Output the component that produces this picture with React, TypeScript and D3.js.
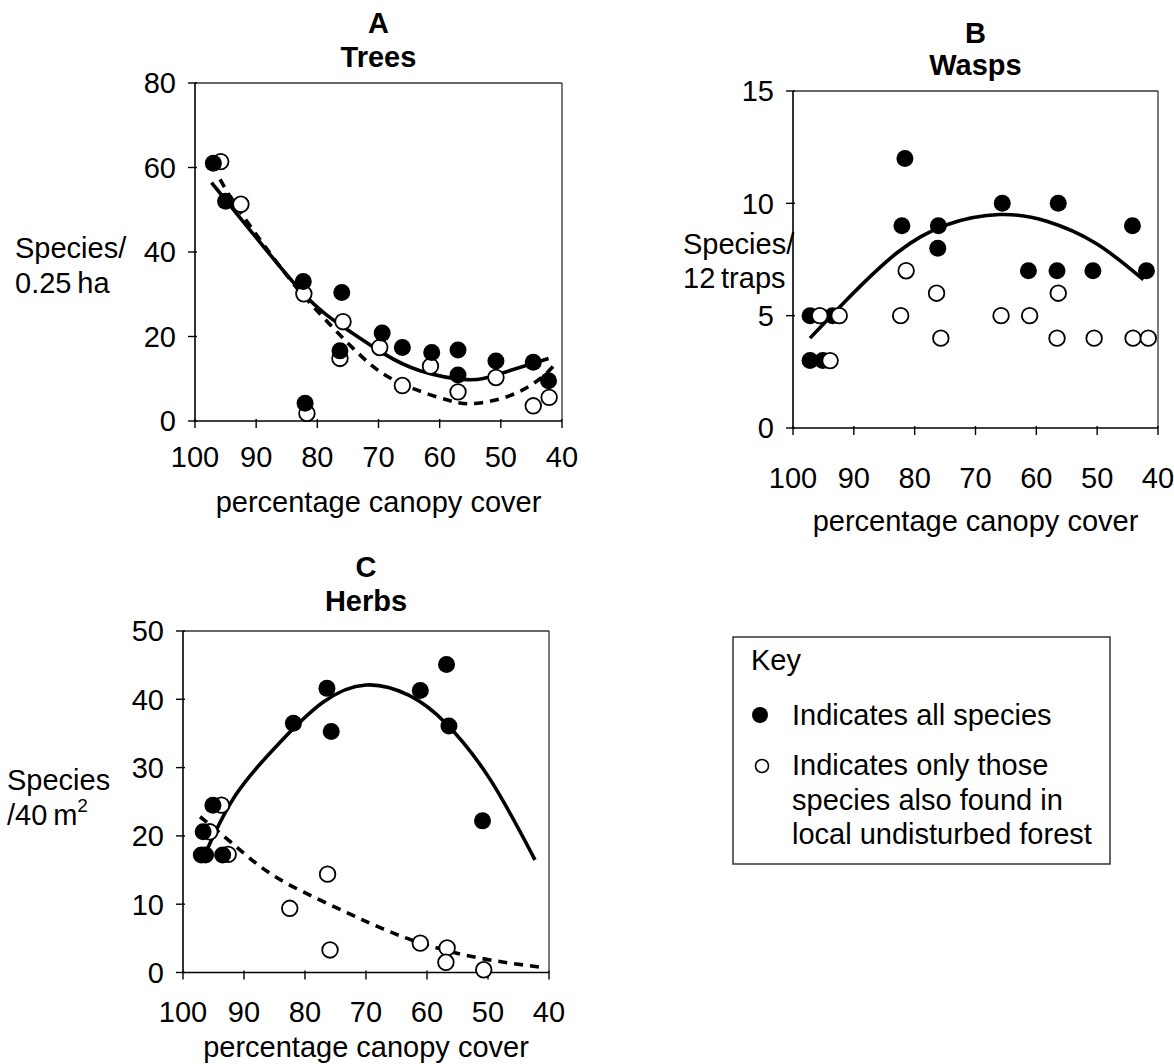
import React from "react";
import * as d3 from "d3";

const FONT = "'Liberation Sans', Arial, Helvetica, sans-serif";

const canopyTicks = [100, 90, 80, 70, 60, 50, 40];

// A  Trees (species / 0.25 ha)
const treesAllX = [97, 95, 82.3, 76, 76.3, 82, 69.4, 66.1, 61.3, 57, 57, 50.8, 44.7, 42.2];
const treesAllY = [61, 52, 33, 30.4, 16.6, 4.2, 20.8, 17.4, 16.2, 16.8, 10.9, 14.2, 13.9, 9.5];
const treesLocalX = [95.8, 92.5, 82.2, 75.8, 76.3, 81.7, 69.8, 66.1, 61.5, 57, 50.8, 44.7, 42.1];
const treesLocalY = [61.4, 51.3, 30.1, 23.5, 14.8, 1.8, 17.4, 8.4, 13, 6.9, 10.3, 3.6, 5.6];
const treesAllFitX = [97.3, 91, 82.3, 75.8, 69.2, 63.2, 55.6, 50.1, 42.2];
const treesAllFitY = [56.4, 45.2, 30.2, 22.3, 16, 11.9, 9.8, 11.2, 14.8];
const treesLocalFitX = [95.9, 92.6, 85.6, 80.1, 73, 66.5, 58.3, 53.9, 48.5, 43.6, 40.8];
const treesLocalFitY = [57.2, 49.5, 35.6, 26.2, 15.6, 9.0, 4.8, 4.2, 6.0, 10.0, 14];

// B  Wasps (species / 12 traps)
const waspsAllX = [97.2, 93.5, 97.2, 95.1, 81.6, 82.1, 76.1, 76.2, 65.6, 61.3, 56.6, 56.4, 50.7, 44.2, 41.9];
const waspsAllY = [5, 5, 3, 3, 12, 9, 9, 8, 10, 7, 7, 10, 7, 9, 7];
const waspsLocalX = [95.6, 92.4, 93.9, 82.3, 81.4, 76.4, 75.7, 65.8, 61.1, 56.4, 56.6, 50.5, 44.1, 41.6];
const waspsLocalY = [5, 5, 3, 5, 7, 6, 4, 5, 5, 6, 4, 4, 4, 4];
const waspsAllFitX = [97.2, 91.2, 82.9, 74.7, 66, 58.3, 50.1, 42.4];
const waspsAllFitY = [4, 5.7, 7.8, 9.05, 9.5, 9.2, 8.2, 6.6];

// C  Herbs (species / 40 m2)
const herbsAllX = [95.1, 96.7, 97, 96.3, 93.5, 81.9, 76.4, 75.7, 61.1, 56.8, 56.4, 50.9];
const herbsAllY = [24.5, 20.6, 17.2, 17.2, 17.2, 36.5, 41.6, 35.3, 41.3, 45.1, 36.1, 22.2];
const herbsLocalX = [93.7, 95.6, 92.6, 76.3, 82.5, 75.9, 61.1, 56.7, 56.9, 50.7];
const herbsLocalY = [24.5, 20.6, 17.3, 14.4, 9.4, 3.3, 4.3, 3.6, 1.5, 0.4];
const herbsAllFitX = [96.1, 91.2, 84, 77, 70, 63, 56.8, 49.6, 42.3];
const herbsAllFitY = [17.9, 26.2, 33.8, 39.6, 42.1, 40.6, 36.4, 28.2, 16.5];
const herbsLocalFitX = [97.2, 92.3, 85.7, 77.5, 69.3, 61, 51.3, 41.5];
const herbsLocalFitY = [22.8, 19.2, 14.5, 10.6, 7.2, 4.3, 2.1, 0.8];

const zip = (xs, ys) => xs.map((x, i) => [x, ys[i]]);

function Panel(props) {
	const { frame, yMax, yTicks, letter, name, yLabel, labels, all, local, allFit, localFit, localOnTop } = props;
	const x = d3.scaleLinear().domain([100, 40]).range([frame.left, frame.right]);
	const y = d3.scaleLinear().domain([0, yMax]).range([frame.bottom, frame.top]);
	const line = d3.line().x(d => x(d[0])).y(d => y(d[1])).curve(d3.curveNatural);
	const cx = (frame.left + frame.right) / 2;

	const filled = all.map((d, i) => (
		<circle key={"f" + i} cx={x(d[0])} cy={y(d[1])} r={8.5} fill="#000" />
	));
	const open = local.map((d, i) => (
		<circle key={"o" + i} cx={x(d[0])} cy={y(d[1])} r={7.8} fill="#fff" stroke="#000" strokeWidth={1.8} />
	));

	return (
		<g>
			<text x={cx} y={labels.title1} textAnchor="middle" fontWeight="bold">{letter}</text>
			<text x={cx} y={labels.title2} textAnchor="middle" fontWeight="bold">{name}</text>

			{/* frame */}
			<line x1={frame.left} x2={frame.right} y1={frame.top} y2={frame.top} stroke="#333" strokeWidth={1.3} />
			<line x1={frame.right} x2={frame.right} y1={frame.top} y2={frame.bottom} stroke="#333" strokeWidth={1.3} />
			<line x1={frame.left} x2={frame.left} y1={frame.top} y2={frame.bottom} stroke="#000" strokeWidth={1.6} />
			<line x1={frame.left} x2={frame.right} y1={frame.bottom} y2={frame.bottom} stroke="#000" strokeWidth={1.6} />

			{yTicks.map(t => (
				<g key={"y" + t}>
					<line x1={frame.left - 7} x2={frame.left + 2} y1={y(t)} y2={y(t)} stroke="#000" strokeWidth={1.4} />
					<text x={frame.left - 19} y={y(t)} dy="0.36em" textAnchor="end">{t}</text>
				</g>
			))}
			{canopyTicks.map(t => (
				<g key={"x" + t}>
					<line x1={x(t)} x2={x(t)} y1={frame.bottom - 2} y2={frame.bottom + 7} stroke="#000" strokeWidth={1.4} />
					<text x={x(t)} y={labels.xTicks} textAnchor="middle">{t}</text>
				</g>
			))}
			<text x={cx} y={labels.xTitle} textAnchor="middle">percentage canopy cover</text>

			{yLabel.map((s, i) => (
				<text key={"l" + i} x={labels.yLabelX} y={labels.yLabel[i]}>{s}</text>
			))}

			<path d={line(allFit)} fill="none" stroke="#000" strokeWidth={3.6} />
			{localFit && (
				<path d={line(localFit)} fill="none" stroke="#000" strokeWidth={3.6} strokeDasharray="9 7" />
			)}

			{localOnTop ? <g>{filled}{open}</g> : <g>{open}{filled}</g>}
		</g>
	);
}

export default function App() {
	return (
		<svg width={1174} height={1064} style={{ position: "absolute", left: 0, top: 0, background: "#fff" }}
			fontFamily={FONT} fontSize={29} fill="#000">
			<rect width={1174} height={1064} fill="#fff" />

			<Panel
				frame={{ left: 195, right: 562, top: 83, bottom: 421 }}
				yMax={80} yTicks={[0, 20, 40, 60, 80]}
				letter="A" name="Trees"
				yLabel={["Species/", "0.25\u2009ha"]}
				labels={{ title1: 33, title2: 67, xTicks: 467, xTitle: 512, yLabelX: 15, yLabel: [258, 293] }}
				all={zip(treesAllX, treesAllY)} local={zip(treesLocalX, treesLocalY)}
				allFit={zip(treesAllFitX, treesAllFitY)} localFit={zip(treesLocalFitX, treesLocalFitY)}
			/>

			<Panel
				frame={{ left: 793, right: 1158, top: 91, bottom: 428 }}
				yMax={15} yTicks={[0, 5, 10, 15]}
				letter="B" name="Wasps"
				yLabel={["Species/", "12\u2009traps"]}
				labels={{ title1: 43, title2: 75, xTicks: 488, xTitle: 531, yLabelX: 683, yLabel: [254, 288] }}
				all={zip(waspsAllX, waspsAllY)} local={zip(waspsLocalX, waspsLocalY)}
				allFit={zip(waspsAllFitX, waspsAllFitY)} localFit={null}
				localOnTop
			/>

			<Panel
				frame={{ left: 183, right: 549, top: 631, bottom: 972.5 }}
				yMax={50} yTicks={[0, 10, 20, 30, 40, 50]}
				letter="C" name="Herbs"
				yLabel={["Species", <>/40{"\u2009"}m<tspan dy={-13} fontSize={19}>2</tspan></>]}
				labels={{ title1: 577, title2: 611, xTicks: 1022, xTitle: 1057, yLabelX: 7, yLabel: [790, 825] }}
				all={zip(herbsAllX, herbsAllY)} local={zip(herbsLocalX, herbsLocalY)}
				allFit={zip(herbsAllFitX, herbsAllFitY)} localFit={zip(herbsLocalFitX, herbsLocalFitY)}
			/>

			{/* key */}
			<g>
				<rect x={733} y={637} width={377} height={227} fill="#fff" stroke="#333" strokeWidth={1.5} />
				<text x={751} y={670}>Key</text>
				<circle cx={760} cy={715} r={8} fill="#000" />
				<text x={792} y={725}>Indicates all species</text>
				<circle cx={762} cy={766} r={6.5} fill="#fff" stroke="#000" strokeWidth={1.6} />
				<text x={792} y={775}>Indicates only those</text>
				<text x={792} y={810}>species also found in</text>
				<text x={792} y={844}>local undisturbed forest</text>
			</g>
		</svg>
	);
}
